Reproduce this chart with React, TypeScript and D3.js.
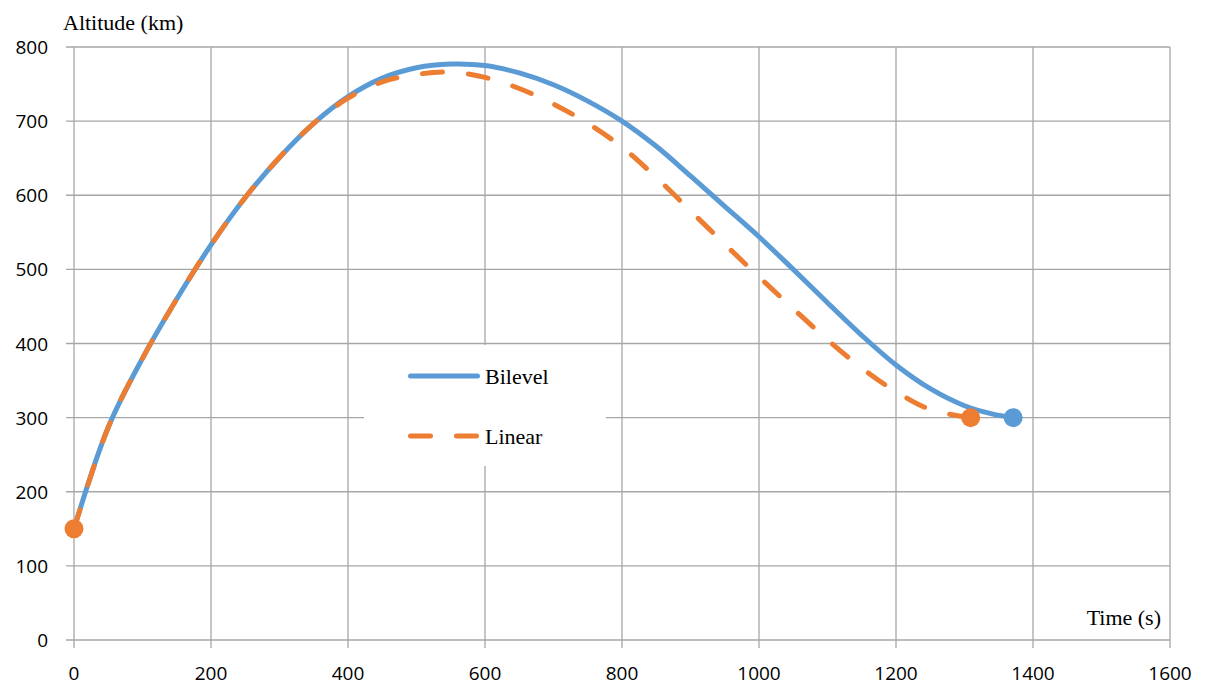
import React, { useEffect, useRef } from "react";
import * as d3 from "d3";

const xTicks = [0, 200, 400, 600, 800, 1000, 1200, 1400, 1600];
const yTicks = [0, 100, 200, 300, 400, 500, 600, 700, 800];

const bilevelTime = [0, 50, 100, 150, 200, 250, 300, 350, 400, 450, 500, 550, 600, 650, 700, 750, 800, 850, 900, 950, 1000, 1050, 1100, 1150, 1200, 1250, 1300, 1340, 1371];
const bilevelAlt = [150, 287, 380, 460, 533, 597, 651, 697, 733, 758, 772, 777, 775, 765, 749, 727, 700, 666, 626, 585, 544, 500, 455, 411, 371, 339, 316, 305, 300];

const linearTime = [0, 50, 100, 150, 200, 250, 300, 350, 400, 450, 500, 550, 600, 650, 700, 750, 800, 850, 900, 950, 1000, 1050, 1100, 1150, 1200, 1250, 1309];
const linearAlt = [150, 287, 380, 460, 533, 597, 651, 697, 731, 753, 763, 766, 759, 744, 723, 697, 665, 624, 579, 534, 490, 447, 405, 367, 335, 311, 300];

const BLUE = "#5b9bd5";
const ORANGE = "#ed7d31";
const GRID = "#a6a6a6";

export default function App() {
  const ref = useRef<SVGSVGElement>(null);

  useEffect(() => {
    const svg = d3.select(ref.current);
    svg.selectAll("*").remove();

    const x = d3.scaleLinear().domain([0, 1600]).range([74, 1170]);
    const y = d3.scaleLinear().domain([0, 800]).range([640, 47]);

    // grid + ticks
    svg.append("g")
      .selectAll("line")
      .data(yTicks)
      .join("line")
      .attr("x1", 66)
      .attr("x2", x(1600))
      .attr("y1", (d) => y(d))
      .attr("y2", (d) => y(d))
      .attr("stroke", GRID)
      .attr("stroke-width", 1.3);

    svg.append("g")
      .selectAll("line")
      .data(xTicks)
      .join("line")
      .attr("x1", (d) => x(d))
      .attr("x2", (d) => x(d))
      .attr("y1", y(800))
      .attr("y2", 648)
      .attr("stroke", GRID)
      .attr("stroke-width", 1.3);

    svg.append("g")
      .selectAll("text")
      .data(yTicks)
      .join("text")
      .attr("x", 48)
      .attr("y", (d) => y(d) + 7)
      .attr("text-anchor", "end")
      .attr("font-family", "Open Sans, sans-serif")
      .attr("font-size", 19)
      .attr("fill", "#000")
      .text((d) => d);

    svg.append("g")
      .selectAll("text")
      .data(xTicks)
      .join("text")
      .attr("x", (d) => x(d))
      .attr("y", 680)
      .attr("text-anchor", "middle")
      .attr("font-family", "Open Sans, sans-serif")
      .attr("font-size", 19)
      .attr("fill", "#000")
      .text((d) => d);

    // axis titles
    svg.append("text")
      .attr("x", 63)
      .attr("y", 30)
      .attr("font-family", "Liberation Serif, Times New Roman, serif")
      .attr("font-size", 22)
      .text("Altitude (km)");

    svg.append("text")
      .attr("x", 1161)
      .attr("y", 625)
      .attr("text-anchor", "end")
      .attr("font-family", "Liberation Serif, Times New Roman, serif")
      .attr("font-size", 22)
      .text("Time (s)");

    const path = d3
      .line<number>()
      .x((t) => x(t))
      .curve(d3.curveCatmullRom.alpha(0.5));

    svg.append("path")
      .attr("d", path.y((_, i) => y(bilevelAlt[i]))(bilevelTime))
      .attr("fill", "none")
      .attr("stroke", BLUE)
      .attr("stroke-width", 5)
      .attr("stroke-linecap", "round");

    svg.append("path")
      .attr("d", path.y((_, i) => y(linearAlt[i]))(linearTime))
      .attr("fill", "none")
      .attr("stroke", ORANGE)
      .attr("stroke-width", 5)
      .attr("stroke-linecap", "round")
      .attr("stroke-dasharray", "20 26");

    // end markers
    const markers = [
      { t: linearTime[0], a: linearAlt[0], c: ORANGE },
      { t: linearTime[linearTime.length - 1], a: linearAlt[linearAlt.length - 1], c: ORANGE },
      { t: bilevelTime[bilevelTime.length - 1], a: bilevelAlt[bilevelAlt.length - 1], c: BLUE },
    ];
    svg.append("g")
      .selectAll("circle")
      .data(markers)
      .join("circle")
      .attr("cx", (d) => x(d.t))
      .attr("cy", (d) => y(d.a))
      .attr("r", 9.5)
      .attr("fill", (d) => d.c);

    // legend
    const lg = svg.append("g");
    lg.append("rect")
      .attr("x", 364)
      .attr("y", 345)
      .attr("width", 242)
      .attr("height", 121)
      .attr("fill", "#fff");
    const items = [
      { name: "Bilevel", color: BLUE, dash: null, yy: 376 },
      { name: "Linear", color: ORANGE, dash: "20 26", yy: 436 },
    ];
    items.forEach((it) => {
      lg.append("line")
        .attr("x1", 410.5)
        .attr("x2", 477.5)
        .attr("y1", it.yy)
        .attr("y2", it.yy)
        .attr("stroke", it.color)
        .attr("stroke-width", 5)
        .attr("stroke-linecap", "round")
        .attr("stroke-dasharray", it.dash);
      lg.append("text")
        .attr("x", 485)
        .attr("y", it.yy + 8)
        .attr("font-family", "Liberation Serif, Times New Roman, serif")
        .attr("font-size", 22)
        .text(it.name);
    });
  }, []);

  return (
    <svg
      ref={ref}
      width={1208}
      height={688}
      style={{ position: "absolute", left: 0, top: 0, background: "#fff" }}
    />
  );
}
